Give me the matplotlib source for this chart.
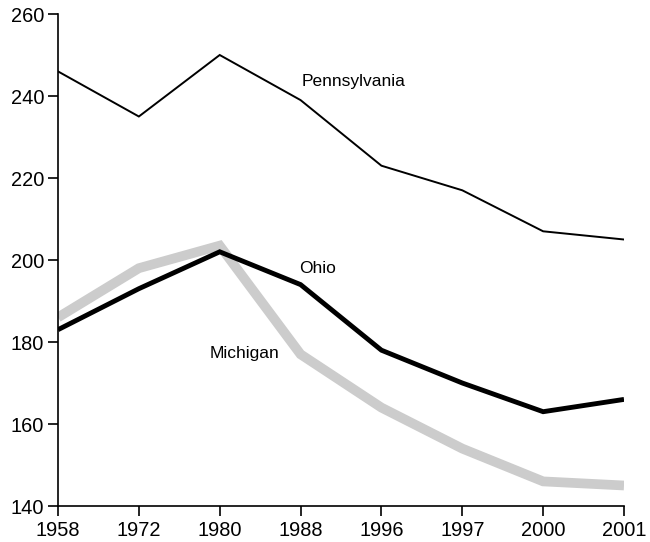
import matplotlib
matplotlib.use("Agg")
import matplotlib.pyplot as plt

years = ["1958", "1972", "1980", "1988", "1996", "1997", "2000", "2001"]
pennsylvania = [246, 235, 250, 239, 223, 217, 207, 205]
ohio = [183, 193, 202, 194, 178, 170, 163, 166]
michigan = [186, 198, 203.5, 177, 164, 154, 146, 145]
yticks = [140, 160, 180, 200, 220, 240, 260]

plt.rcParams['font.family'] = ['Liberation Sans', 'DejaVu Sans']

fig = plt.figure(figsize=(6.5, 5.42), dpi=100)
ax = fig.add_axes([58/650, 1 - 506/542, (624 - 58)/650, (506 - 14)/542])

x = list(range(len(years)))
ax.plot(x, michigan, color="#cccccc", lw=7, solid_joinstyle="miter", solid_capstyle="butt", zorder=2)
ax.plot(x, ohio, color="black", lw=3.5, solid_joinstyle="miter", solid_capstyle="butt", zorder=3)
ax.plot(x, pennsylvania, color="black", lw=1.4, solid_joinstyle="miter", zorder=3)

ax.text(3.01, 242.4, "Pennsylvania", fontsize=12.5, ha="left", va="baseline")
ax.text(2.98, 196.8, "Ohio", fontsize=12.5, ha="left", va="baseline")
ax.text(1.88, 176.2, "Michigan", fontsize=12.5, ha="left", va="baseline")

ax.set_xlim(0, len(years) - 1)
ax.set_ylim(140, 260)
ax.set_xticks(x)
ax.set_xticklabels(years)
ax.set_yticks(yticks)
ax.tick_params(axis="both", labelsize=14.4, length=7, width=1.2, direction="out")
ax.tick_params(axis="x", pad=4)
ax.tick_params(axis="y", pad=3)
for s in ["top", "right"]:
    ax.spines[s].set_visible(False)
for s in ["left", "bottom"]:
    ax.spines[s].set_linewidth(1.2)

fig.savefig("out.png", dpi=100)
